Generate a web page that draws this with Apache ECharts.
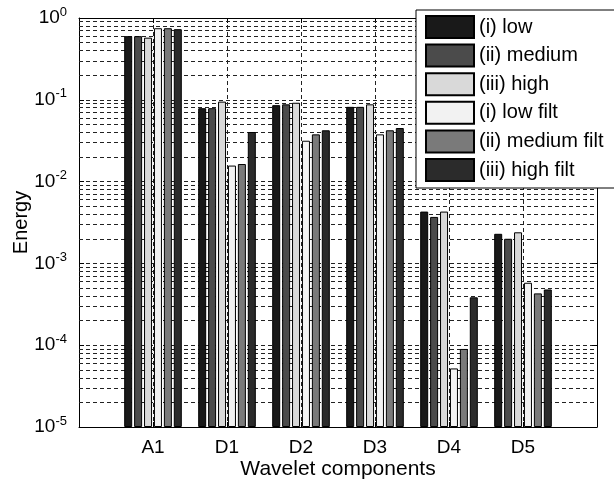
<!DOCTYPE html>
<html>
<head>
<meta charset="utf-8">
<script src="https://cdn.jsdelivr.net/npm/echarts@6/dist/echarts.min.js"></script>
<style>
  html, body { margin: 0; padding: 0; background: #fff; }
  #chart { width: 614px; height: 481px; }
</style>
</head>
<body>
<div id="chart"></div>
<script>
// Wavelet decomposition energy per component, log scale
const categories = ['A1', 'D1', 'D2', 'D3', 'D4', 'D5'];
const seriesNames = ['(i) low', '(ii) medium', '(iii) high', '(i) low filt', '(ii) medium filt', '(iii) high filt'];
const lowValues        = [0.60, 0.079, 0.086, 0.082, 0.0043, 0.0023];
const mediumValues     = [0.60, 0.079, 0.088, 0.082, 0.0037, 0.0020];
const highValues       = [0.575, 0.095, 0.092, 0.088, 0.0043, 0.0024];
const lowFiltValues    = [0.75, 0.0157, 0.0316, 0.0378, 0.000052, 0.00058];
const mediumFiltValues = [0.75, 0.0164, 0.0378, 0.0424, 0.000090, 0.00043];
const highFiltValues   = [0.73, 0.0404, 0.0424, 0.0452, 0.000385, 0.00048];
const yTickExponents = [-5, -4, -3, -2, -1, 0];
const minorMultipliers = [2, 3, 4, 5, 6, 7, 8, 9];

const seriesValues = [lowValues, mediumValues, highValues, lowFiltValues, mediumFiltValues, highFiltValues];
const seriesColors = ['#191919', '#4b4b4b', '#d9d9d9', '#f2f2f2', '#7a7a7a', '#2b2b2b'];

const FONT = '"Liberation Sans", Arial, Helvetica, sans-serif';

// Axis runs from an empty slot before A1 to an empty slot after D5
const axisCategories = [''].concat(categories, ['']);

// Minor decade grid lines (2..9 x 10^k)
const minorLines = [];
for (let i = 0; i < yTickExponents.length - 1; i++) {
  minorMultipliers.forEach(m => minorLines.push({ yAxis: m * Math.pow(10, yTickExponents[i]) }));
}

const gridDash = { color: '#222', width: 1, type: [4, 3] };

const chart = echarts.init(document.getElementById('chart'), null, { renderer: 'canvas' });

const series = seriesNames.map((name, i) => ({
  name: name,
  type: 'bar',
  xAxisIndex: 0,
  yAxisIndex: 0,
  barWidth: 8,
  barGap: '24%',
  data: ['-'].concat(seriesValues[i], ['-']),
  itemStyle: { color: seriesColors[i], borderColor: '#000', borderWidth: 1 },
  z: 3
}));

series.push({
  name: 'minor-grid',
  type: 'line',
  data: [],
  silent: true,
  z: 1,
  markLine: {
    silent: true,
    z: 1,
    precision: 12,
    symbol: 'none',
    label: { show: false },
    lineStyle: gridDash,
    emphasis: { disabled: true },
    data: minorLines
  }
});

const yLabelFormatter = function (v) {
  const e = Math.round(Math.log10(v));
  const idx = yTickExponents.indexOf(e);
  if (idx < 0) return '';
  return '{b|10}{s|' + yTickExponents[idx] + '}';
};

chart.setOption({
  animation: false,
  backgroundColor: '#fff',
  textStyle: { fontFamily: FONT, color: '#000' },
  grid: { left: 79, right: 17, top: 18, bottom: 54, containLabel: false, outerBoundsMode: 'none' },
  legend: {
    orient: 'vertical',
    left: 416,
    top: 10,
    data: seriesNames,
    itemWidth: 48,
    itemHeight: 22,
    itemGap: 4.6,
    padding: [5, 90, 6, 9],
    backgroundColor: '#fff',
    borderColor: '#000',
    borderWidth: 1,
    icon: 'rect',
    selectedMode: false,
    textStyle: { fontFamily: FONT, fontSize: 20, color: '#000' },
    z: 10
  },
  xAxis: [
    {
      type: 'category',
      data: axisCategories,
      boundaryGap: false,
      position: 'bottom',
      axisLine: { lineStyle: { color: '#000', width: 1 } },
      axisTick: { show: true, inside: true, length: 5, alignWithLabel: true, lineStyle: { color: '#000' } },
      axisLabel: { fontFamily: FONT, fontSize: 19, color: '#000', margin: 11, interval: 0 },
      splitLine: { show: true, interval: 0, lineStyle: gridDash },
      name: 'Wavelet components',
      nameLocation: 'middle',
      nameGap: 32,
      nameMoveOverlap: false,
      nameTextStyle: { fontFamily: FONT, fontSize: 21, color: '#000' }
    },
    {
      type: 'category',
      data: axisCategories,
      boundaryGap: false,
      position: 'top',
      axisLine: { lineStyle: { color: '#000', width: 1 } },
      axisTick: { show: true, inside: true, length: 5, lineStyle: { color: '#000' } },
      axisLabel: { show: false },
      splitLine: { show: false }
    }
  ],
  yAxis: [
    {
      type: 'log',
      logBase: 10,
      min: 1e-5,
      max: 1,
      startValue: 1e-5,
      interval: 1,
      position: 'left',
      axisLine: { show: true, lineStyle: { color: '#000', width: 1 } },
      axisTick: { show: true, inside: true, length: 5, lineStyle: { color: '#000' } },
      axisLabel: {
        formatter: yLabelFormatter,
        margin: 12,
        rich: {
          b: { fontFamily: FONT, fontSize: 19, color: '#000' },
          s: { fontFamily: FONT, fontSize: 13, color: '#000', padding: [0, 0, 12, 0] }
        }
      },
      splitLine: { show: true, lineStyle: gridDash },
      name: 'Energy',
      nameLocation: 'middle',
      nameGap: 48,
      nameMoveOverlap: false,
      nameRotate: 90,
      nameTextStyle: { fontFamily: FONT, fontSize: 20, color: '#000' }
    },
    {
      type: 'log',
      logBase: 10,
      min: 1e-5,
      max: 1,
      interval: 1,
      position: 'right',
      axisLine: { show: true, lineStyle: { color: '#000', width: 1 } },
      axisTick: { show: true, inside: true, length: 5, lineStyle: { color: '#000' } },
      axisLabel: { show: false },
      splitLine: { show: false }
    }
  ],
  series: series
});
</script>
</body>
</html>
